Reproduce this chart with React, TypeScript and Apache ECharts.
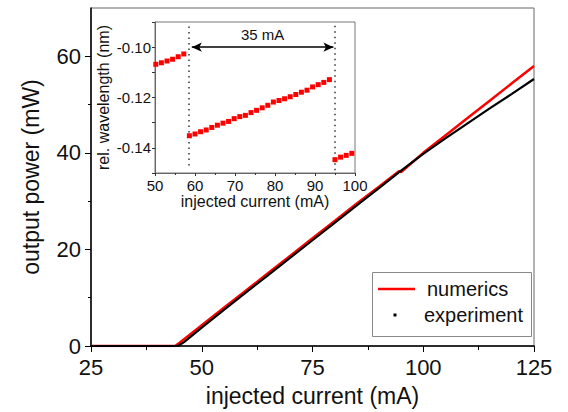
import React, { useEffect, useRef } from "react";
import * as echarts from "echarts";

// Main plot data (injected current in mA, output power in mW)
const numericsCurrent = [25, 44, 45, 50, 55, 60, 65, 70, 75, 80, 85, 90, 94.5, 95, 96, 100, 105, 110, 115, 120, 125];
const numericsPower = [0, 0, 0.7, 4.3, 7.9, 11.5, 15.1, 18.7, 22.3, 25.9, 29.5, 33.0, 36.2, 36.0, 36.8, 40.0, 43.6, 47.2, 50.8, 54.4, 58.0];

const experimentCurrent = [25, 44.6, 46, 50, 55, 60, 65, 70, 75, 80, 85, 90, 94, 95, 100, 105, 110, 115, 120, 125];
const experimentPower = [0, 0, 0.8, 3.8, 7.5, 11.1, 14.7, 18.3, 21.9, 25.5, 29.1, 32.7, 35.6, 36.3, 39.8, 43.0, 46.1, 49.2, 52.2, 55.3];

// Inset data (injected current in mA, relative wavelength in nm)
const insetCurrent = [
  50.2, 51.6, 53.0, 54.4, 55.8, 57.2,
  58.6, 60.0, 61.4, 62.8, 64.2, 65.6, 67.0, 68.4, 69.8, 71.2, 72.6, 74.0, 75.4, 76.8, 78.2, 79.6,
  81.0, 82.4, 83.8, 85.2, 86.6, 88.0, 89.4, 90.8, 92.2, 93.6,
  95.0, 96.4, 97.8, 99.2,
];
const insetWavelength = [
  -0.1068, -0.1062, -0.1055, -0.1048, -0.1038, -0.1027,
  -0.1352, -0.1345, -0.1336, -0.1329, -0.1319, -0.131, -0.1302, -0.1295, -0.1284, -0.1276, -0.1271, -0.126, -0.1251, -0.1241, -0.1231, -0.1218,
  -0.1212, -0.1205, -0.1197, -0.1188, -0.1179, -0.1171, -0.1158, -0.1149, -0.114, -0.1129,
  -0.1447, -0.1437, -0.143, -0.1422,
];
const hopLeft = [[58.5, -0.0918], [58.5, -0.148]];
const hopRight = [[95, -0.0915], [95, -0.15]];
const hopSpacing = { from: 59.2, to: 94.6, level: -0.1, label: "35 mA" };

const mainXTicks = [25, 50, 75, 100, 125];
const mainYTicks = [0, 20, 40, 60];
const mainYMinorTicks = [10, 30, 50];

const FONT = "Arial, 'Liberation Sans', Helvetica, sans-serif";
const TXT = "#111";

export default function App() {
  const ref = useRef<HTMLDivElement>(null);
  useEffect(() => {
    if (!ref.current) return;
    const chart = echarts.init(ref.current, null, { renderer: "svg" });
    const zip = (a: number[], b: number[]) => a.map((v, i) => [v, b[i]]);
    const option: any = {
      animation: false,
      backgroundColor: "#fff",
      textStyle: { fontFamily: FONT },
      grid: [
        { left: 91, top: 8, width: 443, height: 339, show: true, borderColor: "#666", borderWidth: 1, backgroundColor: "#fff" },
        { left: 155, top: 22, width: 200, height: 151, show: true, borderColor: "#777", borderWidth: 1, backgroundColor: "#fff", z: 5 },
      ],
      xAxis: [
        {
          gridIndex: 0, type: "value", min: 25, max: 125, interval: 25,
          name: "injected current (mA)", nameLocation: "middle", nameGap: 38,
          nameTextStyle: { fontSize: 23, color: TXT, fontFamily: FONT },
          axisLine: { show: true, onZero: false, lineStyle: { color: "#000", width: 1.5 } },
          axisTick: { show: true, length: 6, lineStyle: { color: "#000" } },
          minorTick: { show: true, splitNumber: 2, length: 4, lineStyle: { color: "#000" } },
          axisLabel: { fontSize: 22, color: TXT, margin: 10, fontFamily: FONT, customValues: mainXTicks },
          splitLine: { show: false },
        },
        {
          gridIndex: 1, type: "value", min: 50, max: 100, interval: 10,
          name: "injected current (mA)", nameLocation: "middle", nameGap: 19,
          nameTextStyle: { fontSize: 16, color: TXT, fontFamily: FONT },
          axisLine: { show: true, onZero: false, lineStyle: { color: "#666", width: 1 } },
          axisTick: { show: true, length: 3, lineStyle: { color: "#333" } },
          minorTick: { show: true, splitNumber: 2, length: 2, lineStyle: { color: "#333" } },
          axisLabel: { fontSize: 15, color: TXT, margin: 5, fontFamily: FONT },
          splitLine: { show: false },
          z: 6,
        },
      ],
      yAxis: [
        {
          gridIndex: 0, type: "value", min: 0, max: 70, interval: 10,
          name: "output power (mW)", nameLocation: "middle", nameGap: 49,
          nameTextStyle: { fontSize: 23, color: TXT, fontFamily: FONT },
          axisLine: { show: true, onZero: false, lineStyle: { color: "#000", width: 1.5 } },
          axisTick: { show: true, length: 6, lineStyle: { color: "#000" }, customValues: mainYTicks },
          axisLabel: { fontSize: 22, color: TXT, margin: 10, fontFamily: FONT, customValues: mainYTicks },
          splitLine: { show: false },
        },
        {
          gridIndex: 0, type: "value", min: 0, max: 70, interval: 10, position: "left",
          axisLine: { show: false },
          axisTick: { show: true, length: 3, lineStyle: { color: "#000" }, customValues: mainYMinorTicks },
          axisLabel: { show: false },
          splitLine: { show: false },
        },
        {
          gridIndex: 1, type: "value", min: -0.15, max: -0.09, interval: 0.01,
          name: "rel. wavelength (nm)", nameLocation: "middle", nameGap: 44,
          nameTextStyle: { fontSize: 16, color: TXT, fontFamily: FONT },
          axisLine: { show: true, onZero: false, lineStyle: { color: "#666", width: 1 } },
          axisTick: { show: true, length: 3, lineStyle: { color: "#333" } },
          axisLabel: {
            fontSize: 15, color: TXT, margin: 4, fontFamily: FONT,
            formatter: (v: number) => (Math.round(v * 100) % 2 === 0 ? v.toFixed(2) : ""),
          },
          splitLine: { show: false },
          z: 6,
        },
      ],
      series: [
        {
          name: "numerics", type: "line", xAxisIndex: 0, yAxisIndex: 0,
          data: zip(numericsCurrent, numericsPower), showSymbol: false, symbol: "none",
          lineStyle: { color: "#ff0000", width: 2.5 }, z: 2,
        },
        {
          name: "experiment", type: "line", xAxisIndex: 0, yAxisIndex: 0,
          data: zip(experimentCurrent, experimentPower), showSymbol: false, symbol: "none",
          lineStyle: { color: "#000", width: 2.2 }, z: 3,
        },
        {
          name: "hopLeft", type: "line", xAxisIndex: 1, yAxisIndex: 2, data: hopLeft,
          symbol: "none", lineStyle: { color: "#333", width: 1.5, type: [1.5, 4] }, z: 7,
        },
        {
          name: "hopRight", type: "line", xAxisIndex: 1, yAxisIndex: 2, data: hopRight,
          symbol: "none", lineStyle: { color: "#333", width: 1.5, type: [1.5, 4] }, z: 7,
          markLine: {
            silent: true, symbol: ["arrow", "arrow"], symbolSize: [7, 10],
            lineStyle: { color: "#000", width: 1.5, type: "solid" },
            label: {
              show: true, position: "insideMiddleTop", formatter: hopSpacing.label,
              fontSize: 15, color: TXT, fontFamily: FONT, distance: 5,
            },
            data: [[{ coord: [hopSpacing.from, hopSpacing.level] }, { coord: [hopSpacing.to, hopSpacing.level] }]],
          },
        },
        {
          name: "wavelength", type: "scatter", xAxisIndex: 1, yAxisIndex: 2,
          data: zip(insetCurrent, insetWavelength), symbol: "rect", symbolSize: 5,
          itemStyle: { color: "#ff0000", opacity: 1 }, z: 8,
        },
      ],
      graphic: [
        {
          type: "group", z: 100,
          children: [
            { type: "rect", shape: { x: 372.5, y: 272.5, width: 159, height: 64 }, style: { fill: "#fff", stroke: "#888", lineWidth: 1 } },
            { type: "line", shape: { x1: 378, y1: 289, x2: 415, y2: 289 }, style: { stroke: "#ff0000", lineWidth: 2.5 } },
            { type: "text", x: 427, y: 289, style: { text: "numerics", fontSize: 20, fontFamily: FONT, fill: TXT, verticalAlign: "middle", align: "left" } },
            { type: "rect", shape: { x: 393.5, y: 313.5, width: 3, height: 3 }, style: { fill: "#000" } },
            { type: "text", x: 424, y: 315, style: { text: "experiment", fontSize: 20, fontFamily: FONT, fill: TXT, verticalAlign: "middle", align: "left" } },
          ],
        },
      ],
    };
    chart.setOption(option);
    return () => chart.dispose();
  }, []);
  return (
    <div
      ref={ref}
      style={{ position: "fixed", left: 0, top: 0, width: 568, height: 412, background: "#fff" }}
    />
  );
}
